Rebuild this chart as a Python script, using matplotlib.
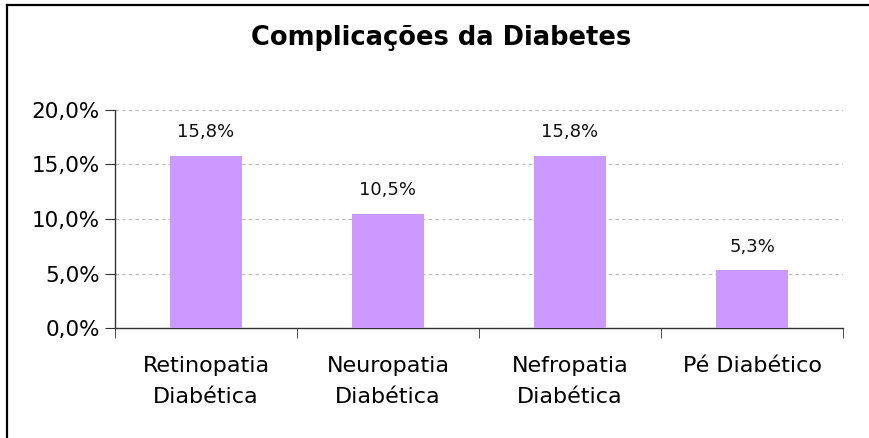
import numpy as np
import matplotlib.pyplot as plt
from matplotlib.lines import Line2D

categorias = ['Retinopatia\nDiabética', 'Neuropatia\nDiabética', 'Nefropatia\nDiabética', 'Pé Diabético']
valores = [15.8, 10.5, 15.8, 5.3]
rotulos = ['15,8%', '10,5%', '15,8%', '5,3%']
yticks = [0, 5, 10, 15, 20]

fig = plt.figure(figsize=(8.69, 4.38), dpi=100)
ax = fig.add_axes([0.1323, 0.2511, 0.8378, 0.4978])

x = np.arange(len(categorias))
ax.bar(x, valores, width=0.4, color='#CC99FF', zorder=3)

for xi, v, lab in zip(x, valores, rotulos):
    ax.annotate(lab, (xi, v), xytext=(0, 17), textcoords='offset points',
                ha='center', va='center', fontsize=13, color='#111111')

ax.set_xlim(-0.5, len(categorias) - 0.5)
ax.set_ylim(0, 20)
ax.set_yticks(yticks)
ax.set_yticklabels([f'{t:.1f}%'.replace('.', ',') for t in yticks], fontsize=15.5)
ax.set_xticks(x)
ax.set_xticklabels(categorias, fontsize=16, linespacing=1.67)
ax.set_xticks(np.arange(len(categorias) + 1) - 0.5, minor=True)
ax.tick_params(axis='x', which='major', length=0, pad=20)
ax.tick_params(axis='x', which='minor', length=7, direction='out', color='#333333')
ax.tick_params(axis='y', length=7, direction='out', color='#333333', pad=4)

ax.yaxis.grid(True, linestyle=(0, (3, 3)), color='#BBBBBB', linewidth=0.8, zorder=0)
for s in ['top', 'right']:
    ax.spines[s].set_visible(False)
for s in ['left', 'bottom']:
    ax.spines[s].set_color('#333333')
    ax.spines[s].set_linewidth(1)

fig.text(0.5075, 0.913, 'Complicações da Diabetes', ha='center', va='center',
         fontsize=18.5, fontweight='bold')

# borda do gráfico (só topo e esquerda aparecem)
fig.add_artist(Line2D([7 / 869, 1], [1 - 5 / 438] * 2, transform=fig.transFigure,
                      color='black', linewidth=1.6))
fig.add_artist(Line2D([7 / 869] * 2, [0, 1 - 5 / 438], transform=fig.transFigure,
                      color='black', linewidth=1.6))

plt.savefig('out.png', dpi=100)
